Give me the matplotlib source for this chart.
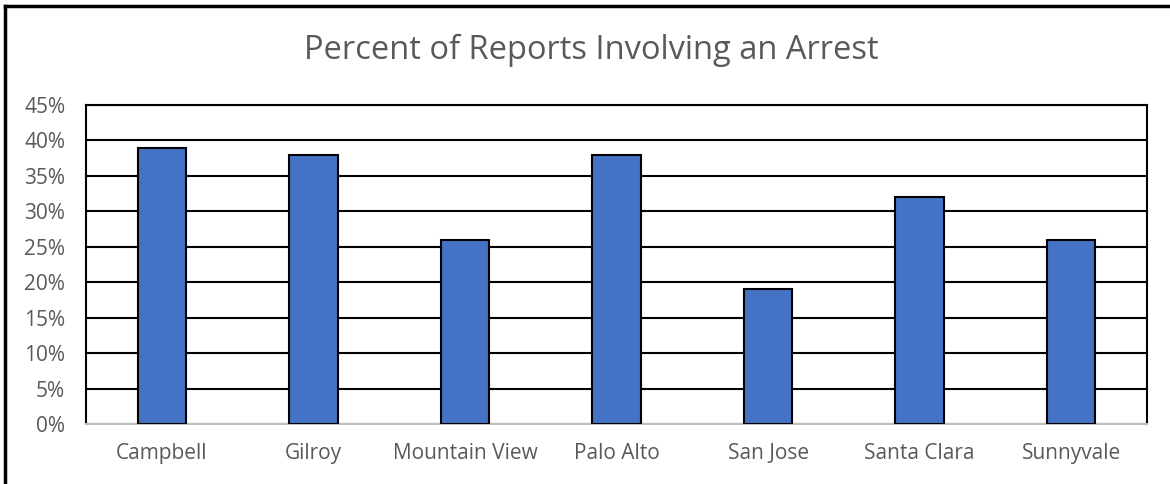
import matplotlib.pyplot as plt
from matplotlib.lines import Line2D
from matplotlib.ticker import PercentFormatter

plt.rcParams['font.family'] = ['Open Sans', 'DejaVu Sans']

cities = ["Campbell", "Gilroy", "Mountain View", "Palo Alto", "San Jose", "Santa Clara", "Sunnyvale"]
arrest_pct = [39, 38, 26, 38, 19, 32, 26]
y_ticks = [0, 5, 10, 15, 20, 25, 30, 35, 40, 45]

fig = plt.figure(figsize=(11.7, 4.84), dpi=100)
ax = fig.add_axes([86 / 1170, 60 / 484, (1147 - 86) / 1170, (424 - 105) / 484])

x = range(len(cities))
ax.bar(x, arrest_pct, width=0.32, color='#4472C4', edgecolor='black', linewidth=1.5, zorder=3)

ax.set_xlim(-0.5, len(cities) - 0.5)
ax.set_ylim(0, 45)
ax.set_yticks(y_ticks)
ax.yaxis.set_major_formatter(PercentFormatter(decimals=0))
ax.set_xticks(list(x))
ax.set_xticklabels(cities)
ax.tick_params(axis='both', length=0, labelsize=15, colors='#595959')
ax.tick_params(axis='x', pad=14)
ax.tick_params(axis='y', pad=15)
ax.grid(axis='y', color='black', linewidth=1.5, zorder=1)

for s in ['left', 'top', 'right']:
    ax.spines[s].set_color('black')
    ax.spines[s].set_linewidth(1.5)
ax.spines['bottom'].set_color('#BFBFBF')
ax.spines['bottom'].set_linewidth(1.5)

fig.text(591 / 1170, 1 - 50 / 484, "Percent of Reports Involving an Arrest",
         ha='center', va='center', fontsize=23.5, color='#595959')

# outer chart border (top and left edges visible)
fig.add_artist(Line2D([5 / 1170, 5 / 1170], [0, 1 - 6 / 484], transform=fig.transFigure, color='black', linewidth=2.5))
fig.add_artist(Line2D([5 / 1170, 1], [1 - 6 / 484, 1 - 6 / 484], transform=fig.transFigure, color='black', linewidth=2.5))

fig.savefig("out.png", dpi=100)
